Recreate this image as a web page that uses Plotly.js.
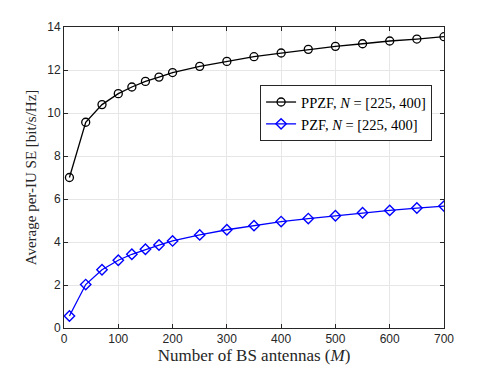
<!DOCTYPE html>
<html>
<head>
<meta charset="utf-8">
<script src="https://cdn.plot.ly/plotly-3.0.1.min.js"></script>
<style>
  html, body { margin: 0; padding: 0; background: #fff; }
  #chart { width: 491px; height: 368px; }
</style>
</head>
<body>
<div id="chart"></div>
<script>
// number of BS antennas
const antennas = [10, 40, 70, 100, 125, 150, 175, 200, 250, 300, 350, 400, 450, 500, 550, 600, 650, 700];
// average per-IU SE
const ppzf = [7.0, 9.57, 10.39, 10.90, 11.21, 11.47, 11.67, 11.88, 12.17, 12.40, 12.62, 12.79, 12.96, 13.10, 13.22, 13.35, 13.44, 13.55];
const pzf = [0.56, 2.02, 2.71, 3.15, 3.43, 3.66, 3.86, 4.05, 4.33, 4.57, 4.76, 4.95, 5.09, 5.22, 5.36, 5.47, 5.58, 5.67];

const serif = '"Liberation Serif", "DejaVu Serif", serif';
const sans = '"Liberation Sans", Arial, sans-serif';

const data = [
  {
    x: antennas, y: ppzf, type: 'scatter', mode: 'lines+markers',
    name: 'PPZF, <i>N</i> = [225, 400]',
    line: {color: '#000000', width: 1.3},
    marker: {symbol: 'circle-open', size: 8, color: '#000000', line: {width: 1.3}}
  },
  {
    x: antennas, y: pzf, type: 'scatter', mode: 'lines+markers',
    name: 'PZF, <i>N</i> = [225, 400]',
    line: {color: '#0000ff', width: 1.3},
    marker: {symbol: 'diamond-open', size: 8, color: '#0000ff', line: {width: 1.4}}
  }
];

const axisCommon = {
  showline: true, mirror: 'ticks', linecolor: '#262626', linewidth: 1,
  ticks: 'inside', ticklen: 4, tickcolor: '#262626',
  showgrid: true, gridcolor: '#e6e6e6', gridwidth: 1,
  zeroline: false,
  tickfont: {family: sans, size: 12, color: '#262626'}
};

const layout = {
  width: 491, height: 368,
  margin: {l: 64, r: 47, t: 27, b: 40},
  paper_bgcolor: '#ffffff', plot_bgcolor: '#ffffff',
  showlegend: true,
  xaxis: Object.assign({}, axisCommon, {
    range: [0, 700], dtick: 100,
    title: {text: 'Number of BS antennas (<i>M</i>)', font: {family: serif, size: 17, color: '#262626'}, standoff: 3}
  }),
  yaxis: Object.assign({}, axisCommon, {
    range: [0, 14], dtick: 2,
    title: {text: 'Average per-IU SE [bit/s/Hz]', font: {family: serif, size: 15, color: '#262626'}, standoff: 6}
  }),
  legend: {
    x: 0.516, y: 0.807, xanchor: 'left', yanchor: 'top',
    bgcolor: '#ffffff', bordercolor: '#262626', borderwidth: 1,
    font: {family: serif, size: 14.5, color: '#000000'},
    tracegroupgap: 0, itemwidth: 30
  }
};

Plotly.newPlot('chart', data, layout, {displayModeBar: false, staticPlot: true});
</script>
</body>
</html>
